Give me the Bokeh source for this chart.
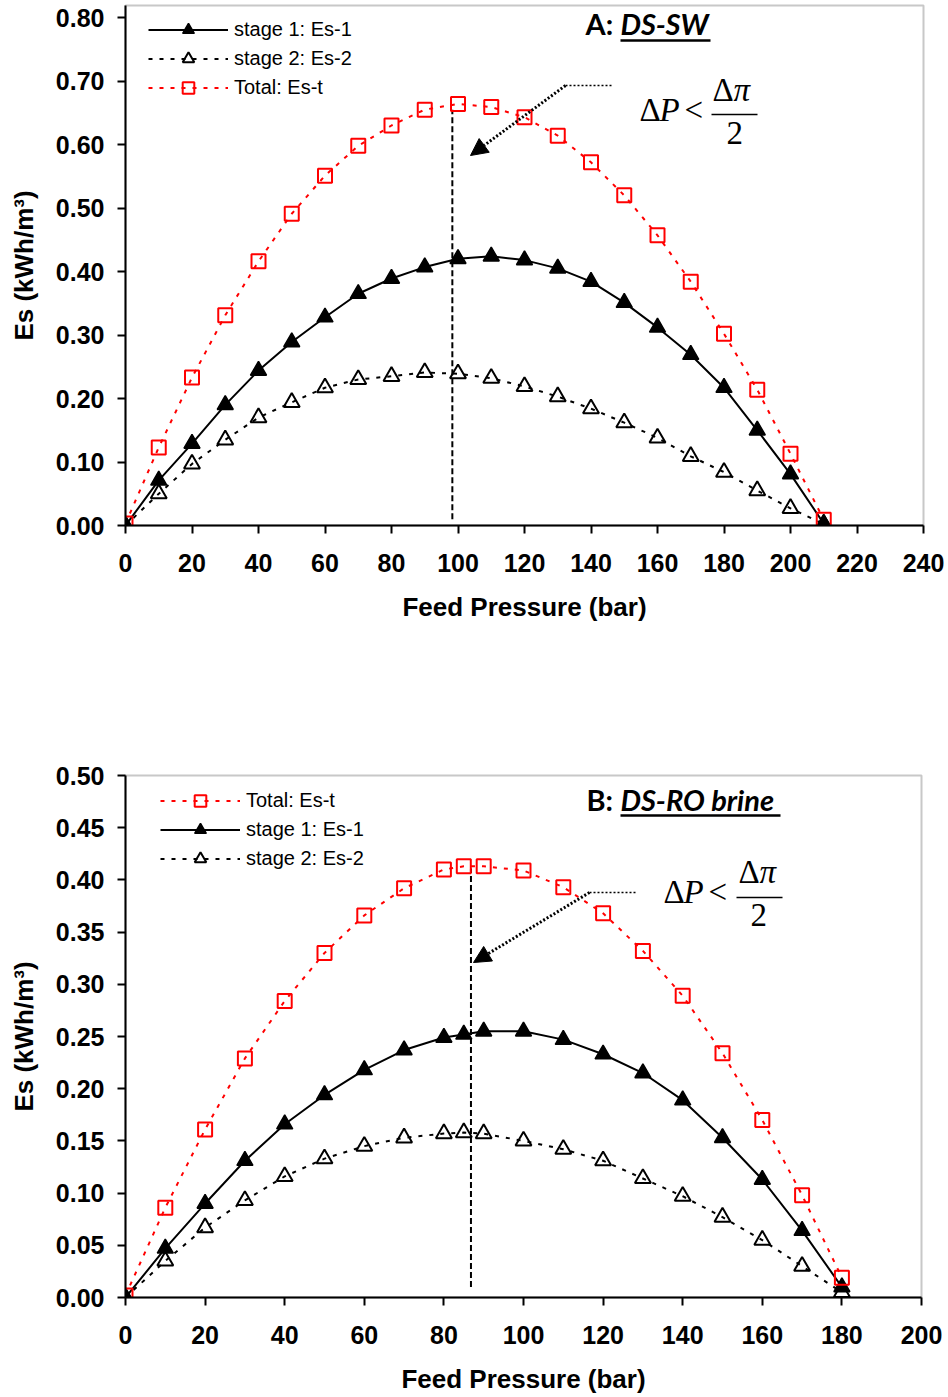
from bokeh.plotting import figure
from bokeh.models import (Range1d, FixedTicker, NumeralTickFormatter, Legend, LegendItem,
                          Label, Arrow, NormalHead)
from bokeh.layouts import column
from bokeh.embed import file_html
from bokeh.resources import INLINE

# ---------------- Panel A: DS-SW ----------------
a_pressure = [0, 10, 20, 30, 40, 50, 60, 70, 80, 90, 100, 110, 120, 130, 140,
              150, 160, 170, 180, 190, 200, 210]
a_es1 = [0.000, 0.071, 0.129, 0.190, 0.244, 0.289, 0.328, 0.365, 0.389, 0.407,
         0.420, 0.424, 0.418, 0.405, 0.384, 0.351, 0.312, 0.269, 0.217, 0.150,
         0.081, 0.003]
a_es2 = [0.000, 0.050, 0.097, 0.135, 0.170, 0.194, 0.217, 0.230, 0.235, 0.241,
         0.239, 0.232, 0.219, 0.203, 0.184, 0.162, 0.138, 0.109, 0.084, 0.055,
         0.027, 0.002]
a_est = [0.003, 0.123, 0.233, 0.331, 0.416, 0.491, 0.551, 0.598, 0.630, 0.655,
         0.664, 0.659, 0.643, 0.614, 0.572, 0.520, 0.457, 0.384, 0.302, 0.214,
         0.113, 0.009]
a_x_ticks = [0, 20, 40, 60, 80, 100, 120, 140, 160, 180, 200, 220, 240]
a_y_ticks = [0.0, 0.1, 0.2, 0.3, 0.4, 0.5, 0.6, 0.7, 0.8]
a_opt_pressure = 98.3
a_opt_es = 0.655

# ---------------- Panel B: DS-RO brine ----------------
b_pressure = [0, 10, 20, 30, 40, 50, 60, 70, 80, 85, 90, 100, 110, 120, 130,
              140, 150, 160, 170, 180]
b_es1 = [0.000, 0.047, 0.090, 0.131, 0.166, 0.194, 0.218, 0.237, 0.249, 0.252,
         0.255, 0.255, 0.247, 0.233, 0.215, 0.189, 0.153, 0.113, 0.064, 0.010]
b_es2 = [0.000, 0.035, 0.067, 0.093, 0.116, 0.133, 0.145, 0.153, 0.157, 0.158,
         0.157, 0.150, 0.142, 0.131, 0.114, 0.097, 0.077, 0.055, 0.030, 0.005]
b_est = [0.002, 0.086, 0.161, 0.229, 0.284, 0.330, 0.366, 0.392, 0.410, 0.413,
         0.413, 0.409, 0.393, 0.368, 0.332, 0.289, 0.234, 0.170, 0.098, 0.019]
b_x_ticks = [0, 20, 40, 60, 80, 100, 120, 140, 160, 180, 200]
b_y_ticks = [0.0, 0.05, 0.10, 0.15, 0.20, 0.25, 0.30, 0.35, 0.40, 0.45, 0.50]
b_opt_pressure = 86.8
b_opt_es = 0.411

label_es1 = "stage 1: Es-1"
label_es2 = "stage 2: Es-2"
label_est = "Total: Es-t"
x_title = "Feed Pressure (bar)"
y_title = "Es (kWh/m\u00b3)"

TICK_FONT = "Liberation Sans"
SERIF = "Liberation Serif"
TITLE_FONT = "Lato"


def make_panel(pressure, es1, es2, est, x_end, y_end, x_ticks, y_ticks,
               geo, legend_order, legend_loc, opt_p, opt_es, ann, tag, name):
    L, T, fw, fh, top_off, bb, br = geo
    p = figure(frame_width=fw, frame_height=fh,
               x_range=Range1d(0, x_end), y_range=Range1d(0, y_end),
               min_border_left=L, min_border_right=br, min_border_top=top_off,
               min_border_bottom=bb, output_backend="svg", toolbar_location=None,
               background_fill_color="white", border_fill_color="white")
    p.grid.visible = False
    p.outline_line_color = "#c8c8c8"
    p.outline_line_width = 2

    for ax in (p.xaxis[0], p.yaxis[0]):
        ax.axis_line_color = "black"
        ax.axis_line_width = 2
        ax.major_tick_line_color = "black"
        ax.major_tick_line_width = 2
        ax.major_tick_out = 8
        ax.major_tick_in = 0
        ax.minor_tick_line_color = None
        ax.major_label_text_font = TICK_FONT
        ax.major_label_text_font_style = "bold"
        ax.major_label_text_font_size = "25px"
        ax.major_label_text_color = "black"
        ax.axis_label_text_font = TICK_FONT
        ax.axis_label_text_font_style = "bold"
        ax.axis_label_text_font_size = "26px"
        ax.axis_label_text_color = "black"
    p.xaxis.ticker = FixedTicker(ticks=x_ticks)
    p.yaxis.ticker = FixedTicker(ticks=y_ticks)
    p.xaxis.formatter = NumeralTickFormatter(format="0")
    p.yaxis.formatter = NumeralTickFormatter(format="0.00")
    p.xaxis.axis_label = x_title
    p.yaxis.axis_label = y_title
    p.xaxis.major_label_standoff = 20
    p.yaxis.major_label_standoff = 13
    p.xaxis.axis_label_standoff = 17
    p.yaxis.axis_label_standoff = 14

    # optimum pressure marker line
    p.segment(x0=[opt_p], y0=[0.01], x1=[opt_p], y1=[opt_es],
              line_color="black", line_width=2, line_dash="6 3")

    l1 = p.line(pressure, es1, line_color="black", line_width=2)
    l2 = p.line(pressure, es2, line_color="black", line_width=2, line_dash="4 7")
    lt = p.line(pressure, est, line_color="red", line_width=2, line_dash="4 7")
    m1 = p.scatter(pressure, es1, marker="triangle", size=16, fill_color="black",
                   line_color="black", line_width=1.5)
    m2 = p.scatter(pressure, es2, marker="triangle", size=16, fill_color=None,
                   line_color="black", line_width=2)
    mt = p.scatter(pressure, est, marker="square", size=14, fill_color=None,
                   line_color="red", line_width=2)

    items = {
        "s1": LegendItem(label=label_es1, renderers=[l1, m1]),
        "s2": LegendItem(label=label_es2, renderers=[l2, m2]),
        "t": LegendItem(label=label_est, renderers=[lt, mt]),
    }
    leg = Legend(items=[items[k] for k in legend_order], location=legend_loc,
                 border_line_color=None, background_fill_alpha=0,
                 padding=0, margin=0, spacing=0, glyph_width=80, glyph_height=29,
                 label_height=29, label_standoff=6,
                 label_text_font=TICK_FONT, label_text_font_size="20px",
                 label_text_color="black")
    p.add_layout(leg, "center")

    # page pixel -> data helpers for annotation placement
    sx = fw / x_end
    sy = fh / y_end
    B = T + fh

    def dx(px):
        return (px - L) / sx

    def dy(py):
        return (B - py) / sy

    # annotation arrow (dotted leader + arrow)
    tip, start, hend = ann["tip"], ann["start"], ann["hend"]
    p.segment(x0=[dx(start[0])], y0=[dy(start[1])], x1=[dx(hend)], y1=[dy(start[1])],
              line_color="black", line_width=1.6, line_dash="2 2")
    p.add_layout(Arrow(x_start=dx(start[0]), y_start=dy(start[1]),
                       x_end=dx(tip[0]), y_end=dy(tip[1]),
                       line_color="black", line_width=3, line_dash="2 2",
                       end=NormalHead(size=17, fill_color="black", line_color="black",
                                      line_width=1)))

    # formula  dP < d(pi)/2
    fsz = 33
    fix = 0.42 * fsz
    base1, base2, base3 = ann["base_main"], ann["base_num"], ann["base_den"]
    for txt, px, py, style in [("\u0394", ann["x_d1"], base1, "normal"),
                               ("P", ann["x_p"], base1, "italic"),
                               ("<", ann["x_lt"], base1, "normal"),
                               ("\u0394", ann["x_d2"], base2, "normal"),
                               ("\u03c0", ann["x_pi"], base2, "italic"),
                               ("2", ann["x_two"], base3, "normal")]:
        p.add_layout(Label(x=dx(px), y=dy(py - fix), text=txt, text_font=SERIF,
                           text_font_size=f"{fsz}px", text_font_style=style,
                           text_color="black", text_baseline="alphabetic",
                           text_align="left"))
    bar = ann["bar"]
    p.segment(x0=[dx(bar[0])], y0=[dy(bar[2])], x1=[dx(bar[1])], y1=[dy(bar[2])],
              line_color="black", line_width=1.5)

    # panel title
    tsz = 29
    tb = ann["title_base"] - 0.42 * tsz
    p.add_layout(Label(x=dx(ann["title_x"]), y=dy(tb), text=tag, text_font=TITLE_FONT,
                       text_font_size=f"{tsz}px", text_font_style="bold",
                       text_color="black", text_baseline="alphabetic"))
    p.add_layout(Label(x=dx(ann["name_x"]), y=dy(tb), text=name, text_font=TITLE_FONT,
                       text_font_size=f"{tsz}px", text_font_style="bold italic",
                       text_color="black", text_baseline="alphabetic"))
    ul = ann["underline"]
    p.segment(x0=[dx(ul[0])], y0=[dy(ul[2])], x1=[dx(ul[1])], y1=[dy(ul[2])],
              line_color="black", line_width=2.5)
    return p


ann_a = dict(tip=(470, 155), start=(565, 85), hend=612,
             x_d1=639, x_p=659, x_lt=684, base_main=123,
             x_d2=712, x_pi=733, base_num=103, x_two=726, base_den=146,
             bar=(711, 757, 114), title_x=585, name_x=620, title_base=35,
             underline=(620, 710, 40))
ann_b = dict(tip=(472, 962), start=(588, 892), hend=635,
             x_d1=662, x_p=682, x_lt=707, base_main=905,
             x_d2=737, x_pi=758, base_num=885, x_two=749, base_den=928,
             bar=(735, 781, 897), title_x=585, name_x=619, title_base=811,
             underline=(619, 779, 815))

# geometry: (frame left, frame top on page, frame w, frame h, top border, bottom border, right border)
pa = make_panel(a_pressure, a_es1, a_es2, a_est, 240, 0.819, a_x_ticks, a_y_ticks,
                (125, 5, 798, 520, 5, 165, 25), ["s1", "s2", "t"], (23, 423),
                a_opt_pressure, a_opt_es, ann_a, "A: ", "DS-SW")
pb = make_panel(b_pressure, b_es1, b_es2, b_est, 200, 0.5, b_x_ticks, b_y_ticks,
                (124, 775, 796, 522, 85, 100, 28), ["t", "s1", "s2"], (35, 424),
                b_opt_pressure, b_opt_es, ann_b, "B: ", "DS-RO brine")

layout = column(pa, pb, spacing=0)
open("out.html", "w").write(file_html(layout, INLINE))
